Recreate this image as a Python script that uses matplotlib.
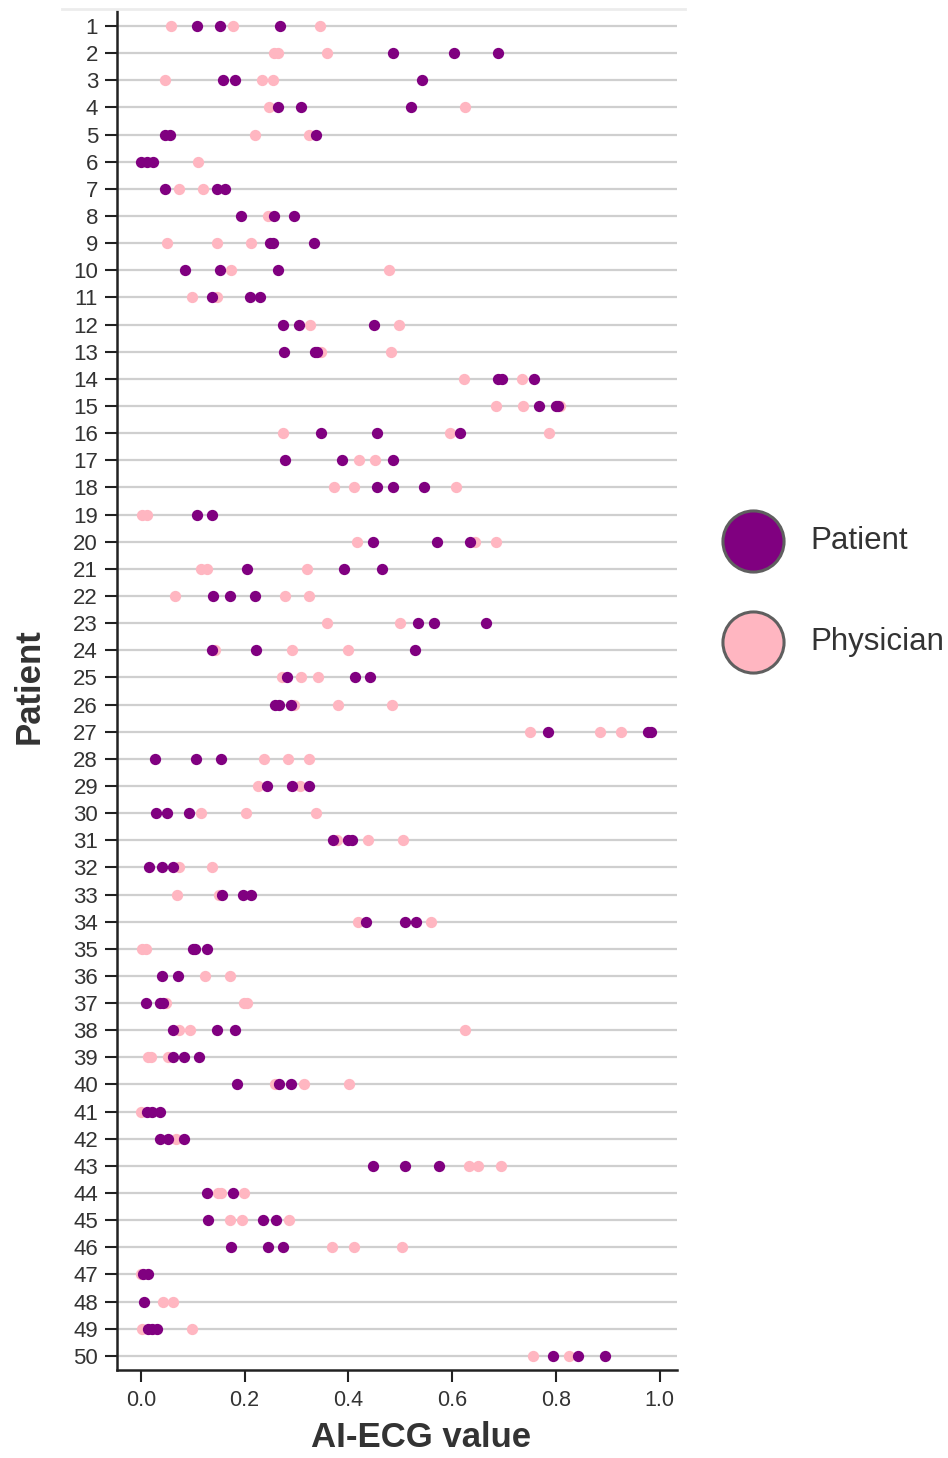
import matplotlib
matplotlib.use("Agg")
import matplotlib.pyplot as plt
from matplotlib.lines import Line2D

plt.rcParams["font.family"] = ["Liberation Sans", "DejaVu Sans"]

patient_ids = list(range(1, 51))

# AI-ECG values for ECGs chosen by the patient, one list per patient
patient_scores = [
    [0.109, 0.152, 0.268], [0.485, 0.603, 0.689], [0.159, 0.182, 0.541],
    [0.265, 0.308, 0.521], [0.047, 0.057, 0.337], [0.000, 0.012, 0.024],
    [0.047, 0.147, 0.163], [0.192, 0.257, 0.296], [0.248, 0.254, 0.333],
    [0.085, 0.152, 0.265], [0.137, 0.210, 0.230], [0.274, 0.305, 0.449],
    [0.275, 0.336, 0.340], [0.688, 0.696, 0.757], [0.767, 0.799, 0.803],
    [0.348, 0.455, 0.614], [0.278, 0.387, 0.485], [0.455, 0.485, 0.546],
    [0.109, 0.138], [0.447, 0.571, 0.635], [0.205, 0.392, 0.465],
    [0.139, 0.172, 0.220], [0.534, 0.565, 0.665], [0.137, 0.222, 0.529],
    [0.281, 0.413, 0.442], [0.259, 0.267, 0.289], [0.784, 0.977, 0.983],
    [0.027, 0.106, 0.154], [0.243, 0.291, 0.324], [0.030, 0.051, 0.092],
    [0.371, 0.399, 0.407], [0.015, 0.040, 0.061], [0.157, 0.197, 0.213],
    [0.433, 0.509, 0.531], [0.100, 0.104, 0.127], [0.041, 0.071],
    [0.009, 0.036, 0.042], [0.061, 0.147, 0.182], [0.061, 0.083, 0.112],
    [0.186, 0.266, 0.289], [0.012, 0.021, 0.036], [0.037, 0.053, 0.084],
    [0.447, 0.509, 0.575], [0.127, 0.178], [0.129, 0.236, 0.260],
    [0.173, 0.245, 0.274], [0.005, 0.013], [0.006],
    [0.013, 0.022, 0.031], [0.794, 0.843, 0.895],
]

# AI-ECG values for ECGs chosen by the physician, one list per patient
physician_scores = [
    [0.058, 0.178, 0.345], [0.256, 0.264, 0.359], [0.047, 0.234, 0.254],
    [0.247, 0.624], [0.220, 0.323], [0.111],
    [0.074, 0.119], [0.244], [0.050, 0.147, 0.212],
    [0.174, 0.479], [0.099, 0.147], [0.326, 0.497],
    [0.348, 0.481], [0.623, 0.734], [0.685, 0.736, 0.808],
    [0.274, 0.595, 0.787], [0.420, 0.452], [0.372, 0.410, 0.608],
    [0.003, 0.012], [0.417, 0.644, 0.685], [0.115, 0.128, 0.320],
    [0.065, 0.277, 0.324], [0.359, 0.500], [0.143, 0.291, 0.399],
    [0.272, 0.309, 0.341], [0.296, 0.379, 0.483], [0.749, 0.884, 0.926],
    [0.238, 0.284, 0.324], [0.225, 0.306], [0.115, 0.202, 0.337],
    [0.378, 0.438, 0.506], [0.074, 0.137], [0.069, 0.150],
    [0.419, 0.559], [0.002, 0.009], [0.124, 0.171],
    [0.049, 0.198, 0.205], [0.074, 0.094, 0.625], [0.014, 0.020, 0.052],
    [0.258, 0.315, 0.401], [0.001], [0.067],
    [0.633, 0.650, 0.694], [0.149, 0.155, 0.199], [0.172, 0.195, 0.286],
    [0.369, 0.410, 0.503], [0.000], [0.043, 0.062],
    [0.002, 0.098], [0.756, 0.825],
]

series_labels = ["Patient", "Physician"]
series_colors = ["#800080", "#FFB6C1"]
x_ticks = [0.0, 0.2, 0.4, 0.6, 0.8, 1.0]

W, H, DPI = 948, 1458, 100
fig = plt.figure(figsize=(W / DPI, H / DPI), dpi=DPI)
fig.patch.set_facecolor("white")

left, right, top, bottom = 117, 677, 10, 1370
aw, ah = right - left, bottom - top
ax = fig.add_axes([left / W, 1 - bottom / H, aw / W, ah / H])


def flatten(ids, groups):
    xs, ys = [], []
    for pid, vals in zip(ids, groups):
        for v in vals:
            xs.append(v)
            ys.append(pid)
    return xs, ys


phx, phy = flatten(patient_ids, physician_scores)
ptx, pty = flatten(patient_ids, patient_scores)

ax.scatter(phx, phy, s=66, color=series_colors[1], linewidths=0, zorder=3)
ax.scatter(ptx, pty, s=66, color=series_colors[0], linewidths=0, zorder=4)

ax.set_xlim(-0.046, 1.033)
ax.set_ylim(50.52, 0.41)
ax.set_yticks(patient_ids)
ax.set_yticklabels([str(p) for p in patient_ids])
ax.set_xticks(x_ticks)
ax.set_xticklabels([f"{t:.1f}" for t in x_ticks])

ax.set_axisbelow(True)
ax.grid(axis="y", color="#cfcfcf", linewidth=1.6)
ax.grid(axis="x", visible=False)

for s in ["top", "right"]:
    ax.spines[s].set_visible(False)
for s in ["left", "bottom"]:
    ax.spines[s].set_color("#222222")
    ax.spines[s].set_linewidth(1.8)

ax.tick_params(axis="y", length=8.6, width=1.5, color="#222222", pad=5,
               labelsize=16, labelcolor="#333333")
ax.tick_params(axis="x", length=8.6, width=1.5, color="#222222", pad=6,
               labelsize=15.5, labelcolor="#333333")

ax.set_xlabel("AI-ECG value", fontsize=25, fontweight="bold", color="#333333")
ax.xaxis.set_label_coords((421 - left) / aw, -(1421 - bottom) / ah)
ax.set_ylabel("Patient", fontsize=25, fontweight="bold", color="#333333")
ax.yaxis.set_label_coords(-(left - 46) / aw, (bottom - 686) / ah)

# faint rule along the top edge
fig.add_artist(Line2D([62 / W, 685 / W], [1 - 9 / H, 1 - 9 / H],
                      color="#ececec", linewidth=2))

# legend with large circular keys
lax = fig.add_axes([0, 0, 1, 1])
lax.set_xlim(0, W)
lax.set_ylim(H, 0)
lax.axis("off")
lax.patch.set_alpha(0)
for i, (lab, col) in enumerate(zip(series_labels, series_colors)):
    cy = 541 + i * 101
    lax.scatter([753], [cy], s=44 ** 2, color=col, edgecolors="#5f5f5f", linewidths=2.2)
    lax.text(810, cy, lab, fontsize=22.5, color="#333333", va="center", ha="left")

fig.savefig("out.png", dpi=DPI, facecolor="white")
